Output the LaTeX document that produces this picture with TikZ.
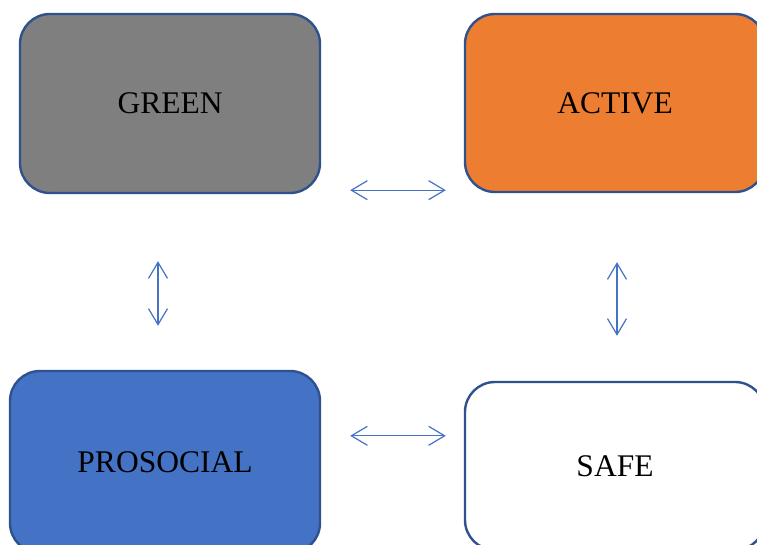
\documentclass[tikz,border=0pt]{standalone}
\usepackage{fontspec}
\setmainfont{Liberation Serif}
\usetikzlibrary{arrows.meta}
\definecolor{bordc}{HTML}{2F528F}
\definecolor{greyc}{HTML}{7F7F7F}
\definecolor{orangec}{HTML}{ED7D31}
\definecolor{bluec}{HTML}{4472C4}
\tikzset{
  box/.style={draw=bordc, line width=2.4pt, rounded corners=30pt, inner sep=0pt,
    font=\fontsize{31.5}{36}\selectfont, text=black},
  arr/.style={draw=bluec, line width=1.2pt,
    {Straight Barb[length=16pt,width=19pt,line width=1.2pt]}-{Straight Barb[length=16pt,width=19pt,line width=1.2pt]}}
}
\begin{document}
\begin{tikzpicture}[x=1pt,y=-1pt]
\useasboundingbox (0,0) rectangle (757,545);
\clip (0,0) rectangle (757,545);
\fill[white] (0,0) rectangle (757,545);
\node[box, fill=greyc, minimum width=300pt, minimum height=179pt] (green) at (170,103.5) {GREEN};
\node[box, fill=orangec, minimum width=300pt, minimum height=178pt] (active) at (615,103) {ACTIVE};
\node[box, fill=bluec, minimum width=310pt, minimum height=182pt] (prosocial) at (165,462) {PROSOCIAL};
\node[box, fill=white, minimum width=300pt, minimum height=168pt] (safe) at (615,466) {SAFE};
\draw[arr] ([shift={(29,-4)}]green.south east) -- ([shift={(-18,-3)}]active.south west);
\draw[arr] ([shift={(29,66)}]prosocial.north east) -- ([shift={(-18,55)}]safe.north west);
\draw[arr] ([shift={(-12,67)}]green.south) -- ([shift={(-7,-44)}]prosocial.north);
\draw[arr] ([shift={(2,69)}]active.south) -- ([shift={(2,-45)}]safe.north);
\end{tikzpicture}
\end{document}
